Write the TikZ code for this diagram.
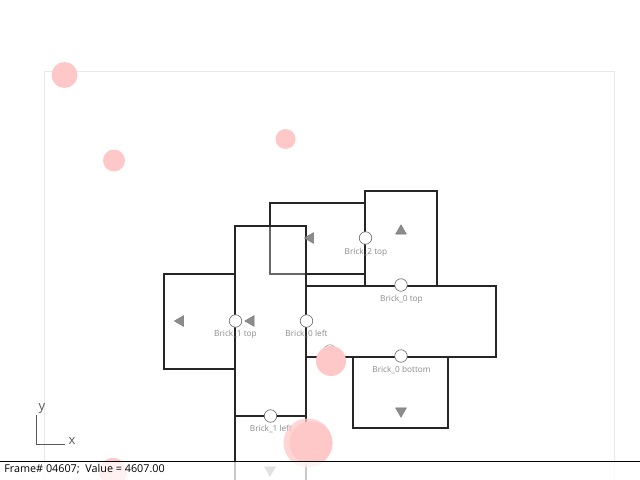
\documentclass[tikz,border=0pt]{standalone}
\usepackage{fontspec}
\setmainfont{Open Sans}
\usetikzlibrary{shapes.geometric}
\definecolor{blobpink}{HTML}{FFC8C8}
\begin{document}
\begin{tikzpicture}[x=0.02cm,y=-0.02cm,
    brick/.style={line width=0.75pt,draw=black!85},
    port/.style={circle,draw=black!60,fill=white,line width=0.35pt,minimum size=0.25cm,inner sep=0pt},
    portlabel/.style={font=\fontsize{4.7}{5}\selectfont,text=black!45,anchor=center},
    tri/.style={regular polygon,regular polygon sides=3,fill=black!45,draw=black!55,line width=0.2pt,minimum size=0.25cm,inner sep=0pt},
    blob/.style={fill=blobpink}]
    \clip (0,0) rectangle (640,480);
    \fill[white] (0,0) rectangle (640,480);
    % bounds
    \draw[black!9,line width=0.4pt] (44.5,500)--(44.5,71)--(614,71)--(614,500);
    % bricks
    \draw[brick] (270,203) rectangle (365,274);
    \fill[white,opacity=0.3] (235,226) rectangle (306,416);
    \draw[brick] (235,226) rectangle (306,416);
    \draw[brick] (164,274) rectangle (235,369);
    \draw[brick] (306,286) rectangle (496,357);
    \draw[brick] (365,191) rectangle (437,286);
    \draw[brick] (353,357) rectangle (448,428);
    \draw[brick] (235,416) rectangle (306,500);
    % direction marks
    \node[tri,rotate=90] (mark2l) at (310.5,238) {};
    \node[tri] (mark2t) at (401,231) {};
    \node[tri,rotate=90] (mark1l) at (180.5,321) {};
    \node[tri,rotate=90] (mark1t) at (251,321) {};
    \node[tri,rotate=180] (mark0b) at (401,411) {};
    \node[tri,rotate=180] (mark1b) at (270,470) {};
    % ports
    \node[port] (p2top) at (365.5,238) {};
    \node[port] (p0top) at (401,285) {};
    \node[port] (p1top) at (235.5,321) {};
    \node[port] (p0left) at (306.5,321) {};
    \node[port] (p0bot) at (401,356) {};
    \node[port] (p1left) at (270.5,416) {};
    \node[port,draw=black!40] (phidden) at (330,351) {};
    \node[portlabel] at (366,252) {Brick\_2 top};
    \node[portlabel] at (401.5,299) {Brick\_0 top};
    \node[portlabel] at (235.5,334.5) {Brick\_1 top};
    \node[portlabel] at (306.5,334) {Brick\_0 left};
    \node[portlabel] at (401.5,369.5) {Brick\_0 bottom};
    \node[portlabel] at (271,429) {Brick\_1 left};
    % blobs
    \fill[blob] (64.5,75) circle (13);
    \fill[blob] (114,160.5) circle (11);
    \fill[blob] (285.5,139) circle (10);
    \fill[blob] (331,361) circle (15);
    \fill[blob,opacity=0.75] (308,443) circle (24.5);
    \fill[blob] (311,443) circle (21.5);
    \fill[blob] (113,472) circle (14);
    % axes
    \coordinate (axo) at (36.5,444);
    \coordinate (axx) at (65,444);
    \coordinate (axy) at (36.5,415);
    \draw[black!65,line width=0.45pt] (axy)--(axo)--(axx);
    \node[font=\fontsize{7.4}{8}\selectfont,text=black!65] (xlab) at (72,441) {x};
    \node[font=\fontsize{7.4}{8}\selectfont,text=black!65] (ylab) at (42,409) {y};
    % status bar
    \fill[white,opacity=0.75] (0,461) rectangle (640,480);
    \draw[black,line width=0.5pt] (0,461)--(640,461);
    \node[font=\fontsize{6.15}{7}\selectfont,anchor=west,inner sep=0pt] (status) at (4,469.5) {Frame\# 04607;\ \ Value = 4607.00};
\end{tikzpicture}
\end{document}
